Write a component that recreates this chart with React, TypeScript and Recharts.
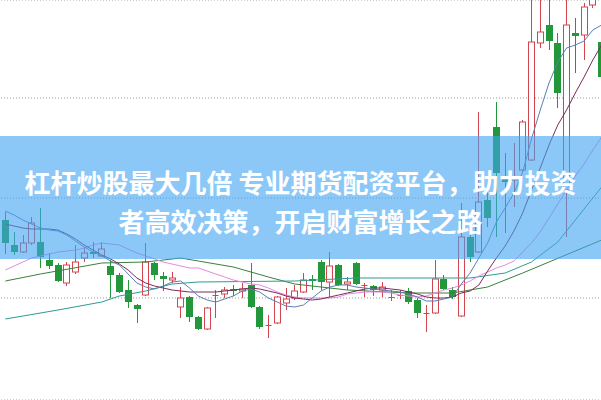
import { ComposedChart, Bar, Line, XAxis, YAxis, CartesianGrid } from "recharts"

const OPEN = [
  10.78, 10.53, 10.46, 10.55, 10.56, 10.38, 10.33, 10.15, 10.26, 10.4,
  10.46, 10.42, 10.32, 10.23, 10.08, 9.93, 10.03, 10.35, 10.22, 10.18,
  9.91, 10.01, 9.81, 9.69, 10.02, 10.04, 10.09, 10.07, 10.13, 9.91,
  9.72, 9.75, 9.95, 10.0, 10.06, 10.19, 10.36, 10.16, 10.33, 10.14,
  10.35, 10.12, 10.12, 10.08, 10.0, 10.02, 10.07, 9.98, 9.84, 9.85,
  10.19, 10.08, 9.82, 10.61, 10.46, 10.98, 11.71, 11.21, 11.18, 11.28,
  11.38, 12.55, 12.73, 12.55, 11.08, 12.65, 12.63, 12.93, 12.56,
]
const CLOSE = [
  10.55, 10.46, 10.55, 10.75, 10.41, 10.32, 10.17, 10.33, 10.36, 10.45,
  10.44, 10.49, 10.23, 10.06, 9.96, 9.89, 10.36, 10.23, 10.19, 10.2,
  10.0, 9.81, 9.69, 9.9, 10.03, 10.08, 10.07, 10.09, 9.91, 9.71,
  9.73, 10.01, 9.99, 10.07, 10.18, 10.17, 10.16, 10.32, 10.13, 10.16,
  10.14, 10.13, 10.08, 10.11, 10.01, 10.03, 9.96, 9.85, 9.85, 10.19,
  10.09, 10.01, 10.61, 10.41, 10.96, 10.8, 11.25, 11.16, 11.2, 11.76,
  12.56, 12.66, 12.57, 12.05, 12.73, 12.62, 12.91, 13.13, 12.21,
]
const HIGH = [
  10.86, 10.66, 10.63, 10.81, 10.9, 10.45, 10.35, 10.36, 10.53, 10.51,
  10.56, 10.56, 10.38, 10.25, 10.18, 9.94, 10.55, 10.36, 10.26, 10.26,
  10.11, 10.02, 9.82, 9.91, 10.08, 10.11, 10.13, 10.15, 10.35, 9.92,
  9.83, 10.02, 10.1, 10.13, 10.25, 10.23, 10.38, 10.46, 10.34, 10.21,
  10.36, 10.15, 10.13, 10.16, 10.08, 10.08, 10.1, 10.0, 9.93, 10.38,
  10.23, 10.11, 10.95, 10.63, 11.86, 11.08, 11.96, 11.45, 11.55, 11.78,
  13.18, 13.18, 13.18, 12.65, 13.18, 12.8, 12.95, 13.23, 12.93,
]
const LOW = [
  10.44, 10.43, 10.45, 10.53, 10.3, 10.29, 10.16, 10.12, 10.24, 10.36,
  10.4, 10.41, 10.0, 10.05, 9.9, 9.75, 10.02, 10.18, 10.07, 10.15,
  9.8, 9.76, 9.68, 9.68, 9.8, 10.0, 10.02, 10.0, 9.9, 9.69,
  9.6, 9.74, 9.88, 9.98, 10.05, 10.08, 10.08, 10.01, 10.12, 10.08,
  10.13, 10.01, 10.02, 10.01, 9.97, 9.99, 9.94, 9.8, 9.66, 9.84,
  10.08, 9.99, 9.81, 10.36, 10.45, 10.71, 10.61, 10.65, 10.91, 11.27,
  11.37, 12.5, 12.48, 11.9, 10.61, 12.25, 12.38, 12.9, 12.13,
]

const MA5 = [
  10.87, 10.83, 10.78, 10.74, 10.7, 10.68, 10.67, 10.63, 10.57, 10.51,
  10.46, 10.42, 10.37, 10.33, 10.24, 10.15, 10.11, 10.09, 10.12, 10.16,
  10.17, 10.1, 10.02, 9.98, 9.96, 9.99, 10.02, 10.07, 10.09, 10.06,
  10.0, 9.96, 9.92, 9.91, 9.93, 10.0, 10.07, 10.11, 10.13, 10.13,
  10.11, 10.1, 10.09, 10.08, 10.07, 10.06, 10.04, 10.01, 9.97, 9.97,
  9.99, 10.01, 10.14, 10.25, 10.4, 10.55, 10.76, 10.9, 11.05, 11.26,
  11.59, 11.88, 12.15, 12.36, 12.5, 12.53, 12.57, 12.68, 12.73,
]
const MA10 = [
  10.74, 10.72, 10.7, 10.69, 10.69, 10.69, 10.68, 10.64, 10.59, 10.53,
  10.48, 10.43, 10.39, 10.34, 10.28, 10.2, 10.15, 10.12, 10.1, 10.08,
  10.07, 10.06, 10.06, 10.06, 10.06, 10.07, 10.08, 10.09, 10.1, 10.09,
  10.07, 10.05, 10.02, 10.0, 9.99, 9.98, 9.99, 10.01, 10.03, 10.05,
  10.07, 10.09, 10.1, 10.1, 10.09, 10.08, 10.06, 10.04, 10.01, 10.0,
  10.0, 10.01, 10.05, 10.07, 10.13, 10.27, 10.4, 10.52, 10.67, 10.85,
  11.08, 11.3, 11.53, 11.73, 11.88, 12.05, 12.21, 12.38, 12.53,
]
const MA20 = [
  10.28, 10.32, 10.36, 10.4, 10.42, 10.44, 10.46, 10.47, 10.48, 10.5,
  10.53, 10.55, 10.54, 10.53, 10.49, 10.45, 10.42, 10.39, 10.36, 10.34,
  10.32, 10.3, 10.3, 10.27, 10.24, 10.21, 10.18, 10.16, 10.14, 10.13,
  10.1, 10.06, 10.03, 10.01, 10.0, 10.0, 10.0, 10.0, 10.01, 10.04,
  10.05, 10.06, 10.06, 10.06, 10.05, 10.03, 10.02, 10.01, 10.02, 10.05,
  10.08, 10.1, 10.13, 10.17, 10.22, 10.26, 10.3, 10.33, 10.37, 10.46,
  10.55, 10.66, 10.8, 10.94, 11.08, 11.22, 11.34, 11.48, 11.61,
]

// the two slow averages are read at a few candles only
const TEAL_AT = [0, 6, 11, 13, 16, 19, 22, 33, 40, 53, 57, 60, 63, 68]
const TEAL_VAL = [9.79, 9.88, 9.96, 10.02, 10.07, 10.14, 10.16, 10.17, 10.2, 10.2, 10.25, 10.36, 10.56, 11.11]
const GREEN_AT = [0, 4, 11, 16, 20, 22, 26, 30, 33, 39, 46, 51, 55, 59, 62, 68]
const GREEN_VAL = [10.17, 10.24, 10.35, 10.36, 10.4, 10.37, 10.31, 10.21, 10.14, 10.08, 10.05, 10.05, 10.11, 10.25, 10.36, 10.58]

const Y_TICKS = [9, 10, 11, 12]

const RED = "#d2444e"
const GREEN = "#22983a"

const data = OPEN.map((open, i) => {
  const t = TEAL_AT.indexOf(i)
  const g = GREEN_AT.indexOf(i)
  return {
    i,
    open,
    close: CLOSE[i],
    high: HIGH[i],
    low: LOW[i],
    ma5: MA5[i],
    ma10: MA10[i],
    ma20: MA20[i],
    ma30: t >= 0 ? TEAL_VAL[t] : null,
    ma60: g >= 0 ? GREEN_VAL[g] : null,
  }
})

function Candle(props: any) {
  const { x, y, width, height, payload } = props
  const { open, close, high, low } = payload
  const top = Math.min(y, y + height)
  const h = Math.abs(height)
  const pix = (v: number) => (high === low ? top : top + ((high - v) / (high - low)) * h)
  const up = close >= open
  const color = up ? RED : GREEN
  const cx = Math.round(x + width / 2) + 0.5
  const bTop = pix(Math.max(open, close))
  const bBot = pix(Math.min(open, close))
  const left = cx - 3

  if (bBot - bTop < 1.5) {
    return (
      <g>
        <line x1={cx} x2={cx} y1={pix(high)} y2={pix(low)} stroke={color} />
        <line x1={left} x2={left + 6} y1={Math.round(bTop) + 0.5} y2={Math.round(bTop) + 0.5} stroke={color} />
      </g>
    )
  }
  if (up) {
    return (
      <g>
        <line x1={cx} x2={cx} y1={pix(high)} y2={bTop} stroke={color} />
        <line x1={cx} x2={cx} y1={bBot} y2={pix(low)} stroke={color} />
        <rect x={left} y={bTop} width={6} height={bBot - bTop} fill="#fff" stroke={color} />
      </g>
    )
  }
  return (
    <g>
      <line x1={cx} x2={cx} y1={pix(high)} y2={pix(low)} stroke={color} />
      <rect x={left - 0.5} y={bTop} width={7} height={bBot - bTop} fill={color} />
    </g>
  )
}

export default function App() {
  return (
    <div style={{ position: "absolute", left: 0, top: 0, width: 601, height: 400, overflow: "hidden", background: "#fff" }}>
      <ComposedChart width={606} height={400} data={data} margin={{ top: 0, right: 0, bottom: 0, left: 1 }}>
        <CartesianGrid vertical={false} stroke="#9a9a9a" strokeDasharray="1 2" />
        <XAxis dataKey="i" hide />
        <YAxis hide domain={[8.98, 12.98]} ticks={Y_TICKS} allowDataOverflow />
        <Bar dataKey={(d: any) => [d.low, d.high]} barSize={6} shape={<Candle />} isAnimationActive={false} />
        <Line type="linear" dataKey="ma60" stroke="#3b7f3b" dot={false} connectNulls isAnimationActive={false} />
        <Line type="linear" dataKey="ma30" stroke="#2f9b92" dot={false} connectNulls isAnimationActive={false} />
        <Line type="linear" dataKey="ma20" stroke="#e38ae0" dot={false} isAnimationActive={false} />
        <Line type="linear" dataKey="ma10" stroke="#7d2b58" dot={false} isAnimationActive={false} />
        <Line type="linear" dataKey="ma5" stroke="#5b7fae" dot={false} isAnimationActive={false} />
      </ComposedChart>
      <div
        style={{
          position: "absolute",
          left: 0,
          top: 136,
          width: 601,
          height: 123,
          background: "rgba(64, 164, 242, 0.6)",
        }}
      />
      <div
        style={{
          position: "absolute",
          left: 0,
          top: 162,
          width: 601,
          textAlign: "center",
          color: "#fff",
          fontFamily: "'Noto Sans CJK SC', sans-serif",
          fontWeight: 700,
          fontSize: 26,
          lineHeight: "39px",
          whiteSpace: "nowrap",
        }}
      >
        <div>杠杆炒股最大几倍 专业期货配资平台，助力投资</div>
        <div>者高效决策，开启财富增长之路</div>
      </div>
    </div>
  )
}
